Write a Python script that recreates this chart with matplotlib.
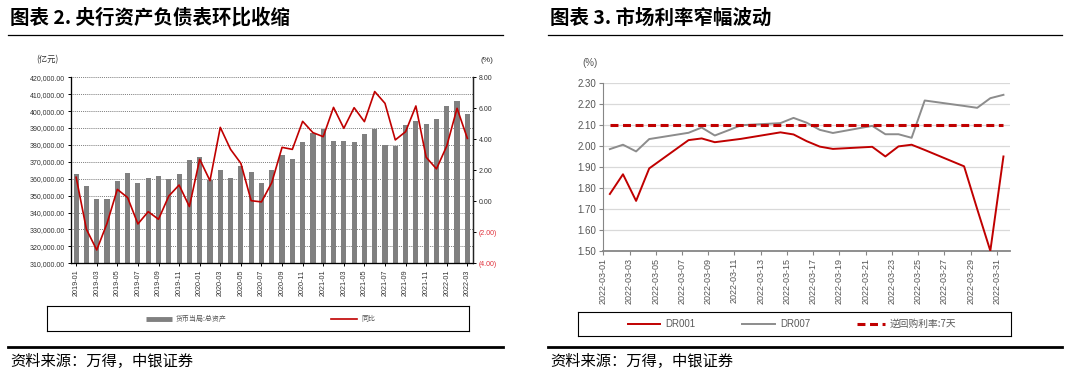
import numpy as np
import pandas as pd
import matplotlib
matplotlib.use('Agg')
import matplotlib.pyplot as plt
from matplotlib.lines import Line2D

plt.rcParams['font.family'] = ['Liberation Sans', 'Noto Sans CJK SC']

# ---- data: left chart (central bank balance sheet) ----
months = pd.date_range('2019-01', periods=39, freq='MS').strftime('%Y-%m').tolist()
total_assets = [363000, 356000, 348300, 348300, 358600, 363300, 357400, 360200, 361700, 359800, 362700, 370800,
                372800, 359400, 365300, 360200, 367300, 363800, 357400, 364900, 374100, 371600, 381600, 386900,
                389500, 382600, 382400, 382000, 386500, 389700, 379800, 379300, 391500, 394400, 392600, 395400,
                403100, 405800, 398500]
yoy = [1.55, -1.81, -3.14, -1.42, 0.77, 0.24, -1.46, -0.67, -1.16, 0.34, 1.05, -0.34,
       2.71, 1.33, 4.77, 3.35, 2.45, 0.04, -0.04, 1.20, 3.48, 3.35, 5.16, 4.43,
       4.17, 6.06, 4.71, 6.04, 5.14, 7.08, 6.32, 3.96, 4.49, 6.15, 2.84, 2.09,
       3.57, 6.00, 4.06]

# ---- data: right chart (market rates, March 2022) ----
days = [1, 2, 3, 4, 7, 8, 9, 10, 11, 14, 15, 16, 17, 18, 21, 22, 23, 24, 25, 28, 29, 30, 31]
dr001 = [1.772, 1.866, 1.739, 1.894, 2.029, 2.037, 2.019, 2.027, 2.035, 2.066, 2.056, 2.024,
         1.998, 1.987, 1.997, 1.951, 1.999, 2.007, 1.982, 1.904, 1.700, 1.501, 1.951]
dr007 = [1.986, 2.007, 1.975, 2.034, 2.064, 2.089, 2.051, 2.075, 2.100, 2.110, 2.135, 2.112,
         2.078, 2.063, 2.097, 2.057, 2.057, 2.040, 2.218, 2.192, 2.183, 2.229, 2.245]
repo7d = [2.10] * len(days)

W, H = 1074, 381
RED = '#C00000'
CJK = ['Noto Sans CJK SC', 'DejaVu Sans']


def rect(x0, y0, x1, y1):
    # pixel box (top-left origin) -> figure fraction
    return [x0 / W, (H - y1) / H, (x1 - x0) / W, (y1 - y0) / H]


fig = plt.figure(figsize=(W / 100, H / 100), dpi=100)

# titles, rules and source notes
for x0, x1, title in [(8, 503, '图表 2. 央行资产负债表环比收缩'), (548, 1062, '图表 3. 市场利率窄幅波动')]:
    fig.text((x0 + 2) / W, 1 - 18 / H, title, fontsize=14, fontweight='bold',
             family=CJK, va='center', ha='left')
    fig.add_artist(Line2D([x0 / W, x1 / W], [1 - 35 / H] * 2, color='black', lw=0.9))
    fig.add_artist(Line2D([x0 / W, x1 / W], [1 - 347 / H] * 2, color='black', lw=2))
    fig.text((x0 + 2) / W, 1 - 361 / H, '资料来源：万得，中银证券', fontsize=11, style='italic',
             family=CJK, va='center', ha='left')

# ---------------- left chart ----------------
ax = fig.add_axes(rect(71, 77.3, 472.5, 263.3))
x = np.arange(len(months))
ax.bar(x, total_assets, width=0.5, color='#808080', zorder=2)
ax.set_ylim(310000, 420000)
yvals = np.arange(310000, 420001, 10000)
ax.set_yticks(yvals)
ax.set_yticklabels([f'{v:,.2f}' for v in yvals], fontsize=5, color='#333333')
ax.set_xlim(-0.5, len(months) - 0.5)
ax.set_xticks(x[::2])
ax.set_xticklabels(months[::2], rotation=90, fontsize=5.2, color='#333333')
ax.grid(axis='y', ls=(0, (1, 1.3)), color='#555555', lw=0.6, zorder=0)
ax.set_axisbelow(True)
ax.spines['top'].set_visible(False)
for s in ['left', 'bottom', 'right']:
    ax.spines[s].set_color('#222222')
    ax.spines[s].set_linewidth(0.9)
ax.tick_params(axis='both', length=2.5, width=0.7, pad=2)

ax2 = ax.twinx()
ax2.plot(x, yoy, color=RED, lw=1.2, zorder=3)
ax2.set_ylim(-4, 8)
rvals = np.arange(-4, 8.01, 2)
ax2.set_yticks(rvals)
labs = ax2.set_yticklabels([f'{v:.2f}' if v >= 0 else f'({-v:.2f})' for v in rvals], fontsize=5)
for lab, v in zip(labs, rvals):
    lab.set_color('#E0303A' if v < 0 else '#333333')
ax2.spines['top'].set_visible(False)
ax2.spines['right'].set_color('#222222')
ax2.spines['right'].set_linewidth(0.9)
ax2.tick_params(axis='y', length=2.5, width=0.7, pad=2)
ax.set_zorder(1)
ax2.set_zorder(2)

fig.text(47 / W, 1 - 60 / H, '(亿元)', fontsize=6, ha='center', va='center', color='#333333', family=CJK)
fig.text(487 / W, 1 - 60 / H, '(%)', fontsize=6, ha='center', va='center', color='#333333')

# left legend box
lg = fig.add_axes(rect(47, 306, 469, 331))
lg.set_xticks([]); lg.set_yticks([])
lg.set_xlim(47, 469); lg.set_ylim(0, 1)
for s in lg.spines.values():
    s.set_linewidth(0.8)
lg.plot([146, 172], [0.5, 0.5], color='#808080', lw=3.5, solid_capstyle='butt')
lg.text(176, 0.5, '货币当局:总资产', fontsize=5, va='center', color='#555555', family=CJK)
lg.plot([331, 357], [0.5, 0.5], color=RED, lw=1.2)
lg.text(361, 0.5, '同比', fontsize=5, va='center', color='#555555', family=CJK)

# ---------------- right chart ----------------
bx = fig.add_axes(rect(603.3, 83.3, 1010, 251))
bx.plot(days, dr001, color=RED, lw=1.4, zorder=3)
bx.plot(days, dr007, color='#8C8C8C', lw=1.4, zorder=3)
bx.plot(days, repo7d, color=RED, lw=2.2, dashes=(2.6, 1.5), zorder=4)
bx.set_xlim(0.5, 31.5)
bx.set_ylim(1.5, 2.3)
yt = np.round(np.arange(1.5, 2.301, 0.1), 2)
bx.set_yticks(yt)
bx.set_yticklabels([f'{v:.2f}' for v in yt], fontsize=7, color='#555555')
xt = np.arange(1, 32, 2)
bx.set_xticks(xt - 0.5)
bx.set_xticklabels([f'2022-03-{d:02d}' for d in xt], rotation=90, fontsize=6.5, color='#555555')
bx.grid(axis='y', color='#D9D9D9', lw=0.9, zorder=0)
for s in ['top', 'right']:
    bx.spines[s].set_visible(False)
for s in ['left', 'bottom']:
    bx.spines[s].set_color('#868686')
bx.spines['bottom'].set_linewidth(1.3)
bx.tick_params(axis='both', length=3, width=0.8, color='#868686', pad=2)
fig.text(590 / W, 1 - 63 / H, '(%)', fontsize=7, ha='center', va='center', color='#555555')

# right legend box
lg2 = fig.add_axes(rect(578, 312, 1011, 336))
lg2.set_xticks([]); lg2.set_yticks([])
lg2.set_xlim(578, 1011); lg2.set_ylim(0, 1)
for s in lg2.spines.values():
    s.set_linewidth(0.8)
lg2.plot([628, 660], [0.5, 0.5], color=RED, lw=1.4)
lg2.text(665, 0.5, 'DR001', fontsize=7, va='center', color='#595959')
lg2.plot([742, 775], [0.5, 0.5], color='#8C8C8C', lw=1.4)
lg2.text(780, 0.5, 'DR007', fontsize=7, va='center', color='#595959')
lg2.plot([857, 885], [0.5, 0.5], color=RED, lw=2.2, dashes=(2.6, 1.5))
lg2.text(890, 0.5, '逆回购利率:7天', fontsize=7, va='center', color='#595959', family=CJK)

fig.savefig('out.png', dpi=100)
